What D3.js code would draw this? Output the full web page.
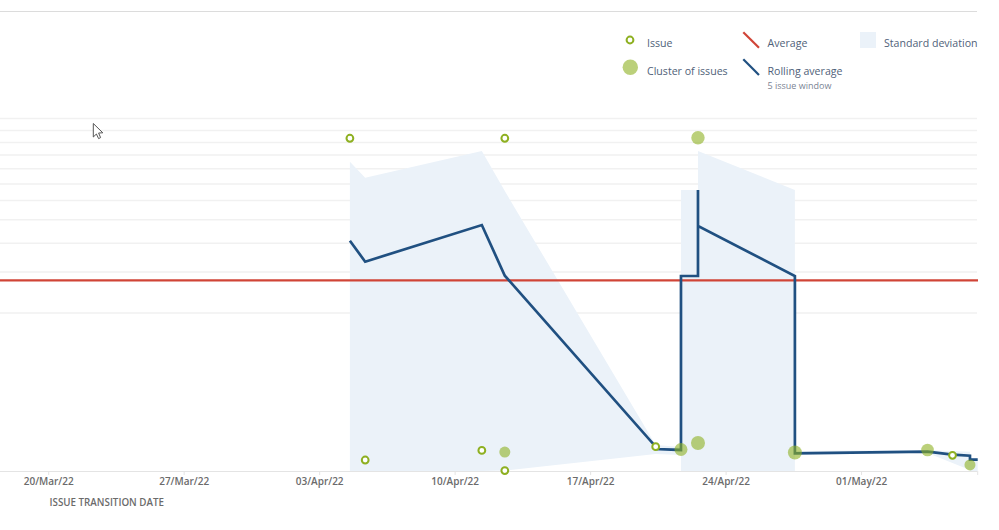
<!DOCTYPE html>
<html>
<head>
<meta charset="utf-8">
<script src="https://cdn.jsdelivr.net/npm/d3@7"></script>
<style>
  html, body { margin: 0; background: #fff; }
  svg { display: block; font-family: "Open Sans", sans-serif; }
  .legend-text { font-size: 10.6px; fill: #505f79; }
  .tick text { font-size: 10px; font-weight: 600; fill: #6b6b6b; }
</style>
</head>
<body>
<svg id="chart" width="999" height="530"></svg>
<script>
// values are days on a symlog axis, the axis labels are cropped out of the reference
const gridDays = [3.85, 6.32, 8.75, 11.34, 13.95, 16.64, 19.55, 22.57, 25.71, 29.11, 32.95];
const averageDays = 5.73;

const issueDates = ['2022-04-04T13:30', '2022-04-12T13:36', '2022-04-05T08:28', '2022-04-11T09:06', '2022-04-12T13:36', '2022-04-20T08:42', '2022-05-05T16:45'];
const issueDays = [26.86, 26.86, 0.116, 0.229, 0.004, 0.275, 0.17];

const clusterDates = ['2022-04-22T13:08', '2022-04-12T13:36', '2022-04-21T16:03', '2022-04-22T13:08', '2022-04-27T13:19', '2022-05-04T09:46', '2022-05-06T14:25'];
const clusterDays = [27.02, 0.209, 0.24, 0.323, 0.204, 0.234, 0.062];
const clusterSizes = [6.7, 5.5, 6.5, 7, 7, 6.3, 5.5];

const rollingDates = ['2022-04-04T13:30', '2022-04-05T08:28', '2022-04-11T09:06', '2022-04-12T13:36', '2022-04-20T08:42', '2022-04-20T08:42', '2022-04-21T16:03', '2022-04-21T16:03', '2022-04-22T13:08', '2022-04-22T13:08', '2022-04-22T13:08', '2022-04-27T13:19', '2022-04-27T13:19', '2022-05-04T09:46', '2022-05-05T16:45', '2022-05-06T14:25', '2022-05-06T14:25', '2022-05-07T00:00'];
const rollingDays = [9.0, 7.11, 10.7, 6.05, 0.275, 0.246, 0.234, 6.03, 6.03, 15.61, 10.59, 6.03, 0.194, 0.213, 0.177, 0.165, 0.12, 0.12];

const bandDates = ['2022-04-04T13:30', '2022-04-05T08:28', '2022-04-11T09:06', '2022-04-12T13:36', '2022-04-20T08:42', '2022-04-21T16:03', '2022-04-21T16:03', '2022-04-22T13:08', '2022-04-22T13:08', '2022-04-27T13:19', '2022-04-27T13:19', '2022-05-04T09:46', '2022-05-06T14:25', '2022-05-06T14:25', '2022-05-07T00:00'];
const bandUpper = [21.04, 17.78, 23.53, 15.44, 0.297, 0.271, 15.61, 15.61, 23.53, 15.61, 0.221, 0.234, 0.213, 0.139, 0.139];
const bandLower = [0, 0, 0, 0.005, 0.185, 0.174, 0, 0, 0, 0, 0.174, 0.197, 0.01, 0, 0];

const tickLabels = ['20/Mar/22', '27/Mar/22', '03/Apr/22', '10/Apr/22', '17/Apr/22', '24/Apr/22', '01/May/22', '07/May/22'];

const parseTick = d3.timeParse('%d/%b/%y');
const formatTick = d3.timeFormat('%d/%b/%y');
const lastTick = tickLabels[tickLabels.length - 1];

const svg = d3.select('#chart');

const x = d3.scaleTime()
  .domain([parseTick(tickLabels[0]), parseTick(lastTick)])
  .range([48.7, 977.7]);

const y = d3.scaleSymlog()
  .domain([0, d3.max(gridDays)])
  .range([471, 118.5]);

// top rule
svg.append('line').attr('x1', 0).attr('x2', 977).attr('y1', 11.5).attr('y2', 11.5)
  .attr('stroke', '#dcdcdc').attr('stroke-width', 1.2);

// grid
svg.append('g').selectAll('line').data(gridDays).join('line')
  .attr('x1', 0).attr('x2', 977)
  .attr('y1', d => y(d)).attr('y2', d => y(d))
  .attr('stroke', '#f1f1f1').attr('stroke-width', 1.5);

// standard deviation
const band = d3.area()
  .x(i => x(new Date(bandDates[i])))
  .y0(i => y(bandLower[i]))
  .y1(i => y(bandUpper[i]));
svg.append('path').attr('d', band(d3.range(bandDates.length))).attr('fill', '#ebf2f9');

// x axis
const axis = d3.axisBottom(x)
  .tickValues(tickLabels.map(parseTick))
  .tickFormat(d => formatTick(d) === lastTick ? '' : formatTick(d))
  .tickSize(4).tickPadding(3).offset(0);
const axisG = svg.append('g').attr('transform', 'translate(0,471)').call(axis);
axisG.select('.domain').remove();
axisG.selectAll('.tick line').attr('stroke', '#e4e4e4');
axisG.selectAll('.tick text').style('font-family', '"Open Sans", sans-serif');
svg.append('line').attr('x1', 0).attr('x2', 977).attr('y1', 471.5).attr('y2', 471.5)
  .attr('stroke', '#e4e4e4').attr('stroke-width', 1);
svg.append('text').attr('x', 49.5).attr('y', 505.5).text('ISSUE TRANSITION DATE')
  .attr('font-size', 9.8).attr('font-weight', 600).attr('fill', '#6b6b6b');

// average
svg.append('line').attr('x1', 0).attr('x2', 978)
  .attr('y1', y(averageDays)).attr('y2', y(averageDays))
  .attr('stroke', '#d04437').attr('stroke-width', 2.4);

// rolling average
const rolling = d3.line()
  .x(i => x(new Date(rollingDates[i])))
  .y(i => y(rollingDays[i]));
svg.append('path').attr('d', rolling(d3.range(rollingDates.length)))
  .attr('fill', 'none').attr('stroke', '#205081').attr('stroke-width', 2.7);

// clusters and issues
svg.append('g').selectAll('circle').data(clusterDates).join('circle')
  .attr('cx', d => x(new Date(d)))
  .attr('cy', (d, i) => y(clusterDays[i]))
  .attr('r', (d, i) => clusterSizes[i])
  .attr('fill', '#8eb021').attr('fill-opacity', 0.6);

svg.append('g').selectAll('circle').data(issueDates).join('circle')
  .attr('cx', d => x(new Date(d)))
  .attr('cy', (d, i) => y(issueDays[i]))
  .attr('r', 3.4)
  .attr('fill', '#fff').attr('stroke', '#8eb021').attr('stroke-width', 2);

// legend
const legend = svg.append('g');
legend.append('circle').attr('cx', 630).attr('cy', 40).attr('r', 3.4)
  .attr('fill', '#fff').attr('stroke', '#8eb021').attr('stroke-width', 2);
legend.append('circle').attr('cx', 630.3).attr('cy', 67.3).attr('r', 7.7)
  .attr('fill', '#8eb021').attr('fill-opacity', 0.6);
legend.append('line').attr('x1', 743.3).attr('y1', 32.3).attr('x2', 759).attr('y2', 47.7)
  .attr('stroke', '#d04437').attr('stroke-width', 2.2);
legend.append('line').attr('x1', 743.3).attr('y1', 59.3).attr('x2', 759).attr('y2', 75)
  .attr('stroke', '#205081').attr('stroke-width', 2.2);
legend.append('rect').attr('x', 860).attr('y', 32).attr('width', 16).attr('height', 16)
  .attr('fill', '#ebf2f9');

const legendNames = ['Issue', 'Cluster of issues', 'Average', 'Rolling average', 'Standard deviation'];
const legendX = [647, 647, 767.5, 767.5, 884];
const legendY = [47, 75, 47, 75, 47];
legend.selectAll('.legend-text').data(legendNames).join('text')
  .attr('class', 'legend-text')
  .attr('x', (d, i) => legendX[i]).attr('y', (d, i) => legendY[i])
  .text(d => d);
legend.append('text').attr('x', 767.5).attr('y', 89).text('5 issue window')
  .attr('font-size', 9).attr('fill', '#7b8494');

// mouse pointer caught in the screenshot
svg.append('path')
  .attr('d', 'M93.3,123.5 L93.3,137 L96.4,134 L98.6,138.6 L100.6,137.6 L98.6,133 L102.8,132.8 Z')
  .attr('fill', '#fff').attr('stroke', '#555').attr('stroke-width', 1);
</script>
</body>
</html>
